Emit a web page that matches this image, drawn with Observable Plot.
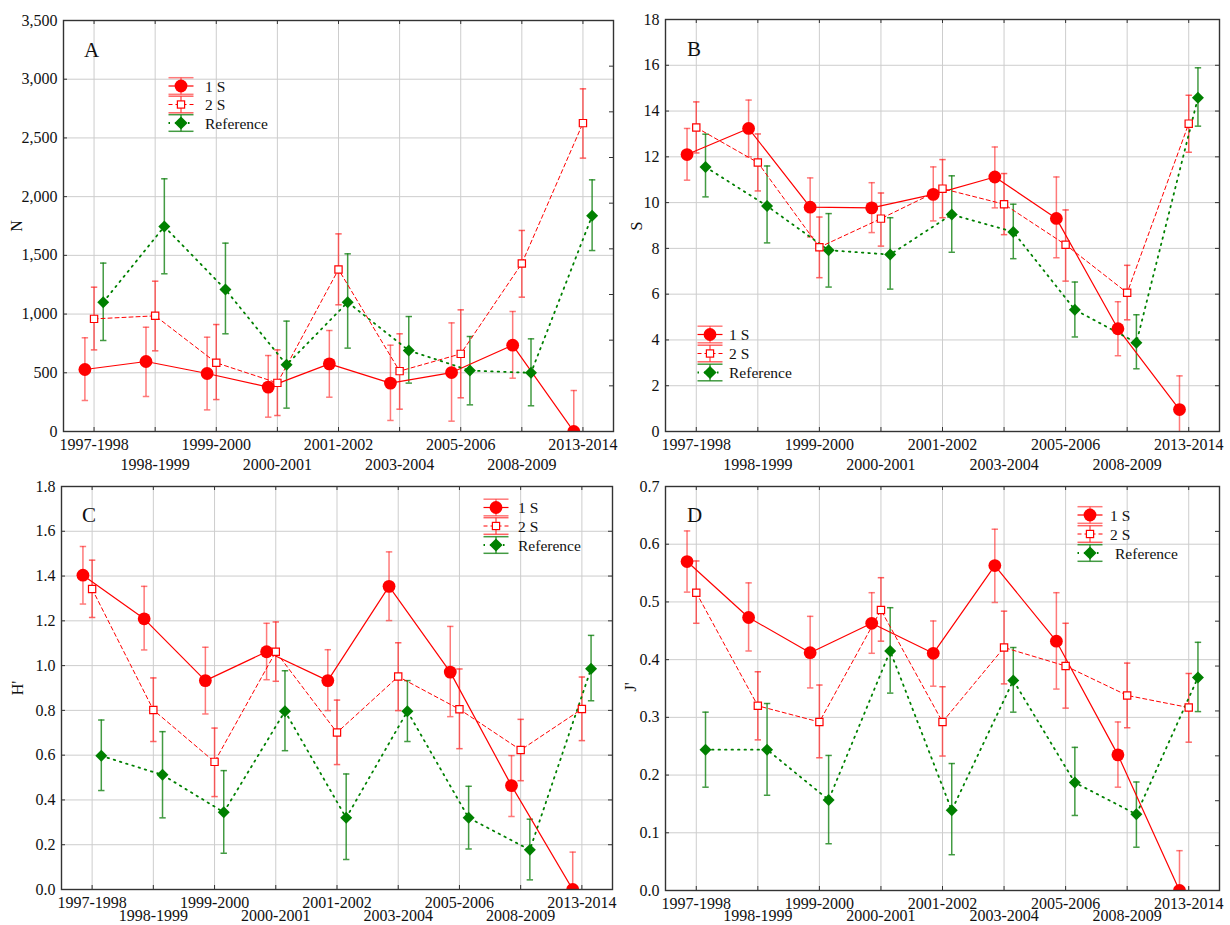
<!DOCTYPE html>
<html>
<head>
<meta charset="utf-8">
<script src="https://cdn.jsdelivr.net/npm/d3@7"></script>
<script src="https://cdn.jsdelivr.net/npm/@observablehq/plot@0.6"></script>
<style>
  html, body { margin: 0; padding: 0; background: #fff; }
  #root { position: relative; width: 1230px; height: 925px; background: #fff; font-family: "Liberation Serif", "Times New Roman", serif; overflow: hidden; }
  .panel { position: absolute; }
  .panel svg { font-family: "Liberation Serif", serif !important; font-size: 16px; overflow: visible; background: transparent !important; }
  #overlay { position: absolute; left: 0; top: 0; pointer-events: none; }
</style>
</head>
<body>
<div id="root"></div>
<script>
// ---------------- DATA ----------------
const categories = ["1997-1998","1998-1999","1999-2000","2000-2001","2001-2002","2003-2004","2005-2006","2008-2009","2013-2014"];
const seriesNames = ["1 S", "2 S", "Reference"];

// Panel A : N
const N_1S     = [528, 596, 494, 378, 576, 412, 502, 735, 0];
const N_1S_lo  = [264, 298, 184, 122, 292, 94, 88, 454, -349];
const N_1S_hi  = [798, 888, 803, 647, 860, 735, 925, 1022, 349];
const N_2S     = [959, 985, 585, 414, 1380, 514, 661, 1431, 2626];
const N_2S_lo  = [695, 687, 272, 136, 1079, 190, 287, 1144, 2328];
const N_2S_hi  = [1229, 1280, 911, 695, 1683, 832, 1036, 1712, 2918];
const N_Ref    = [1101, 1746, 1209, 568, 1101, 690, 519, 500, 1837];
const N_Ref_lo = [775, 1343, 832, 199, 710, 412, 227, 219, 1541];
const N_Ref_hi = [1434, 2152, 1604, 940, 1513, 979, 809, 789, 2143];
const N_ticks  = [0, 500, 1000, 1500, 2000, 2500, 3000, 3500];

// Panel B : S
const S_1S     = [12.10, 13.24, 9.80, 9.77, 10.36, 11.12, 9.31, 4.49, 0.96];
const S_1S_lo  = [10.98, 12.00, 8.50, 8.69, 9.20, 9.77, 7.59, 3.31, -0.51];
const S_1S_hi  = [13.24, 14.48, 11.08, 10.87, 11.56, 12.43, 11.12, 5.67, 2.43];
const S_2S     = [13.28, 11.75, 8.05, 9.30, 10.61, 9.93, 8.16, 6.06, 13.45];
const S_2S_lo  = [12.17, 10.51, 6.72, 8.10, 9.34, 8.60, 6.57, 4.88, 12.20];
const S_2S_hi  = [14.40, 13.00, 9.37, 10.42, 11.88, 11.27, 9.68, 7.26, 14.69];
const S_Ref    = [11.56, 9.85, 7.92, 7.73, 9.48, 8.72, 5.32, 3.88, 14.58];
const S_Ref_lo = [10.25, 8.24, 6.31, 6.22, 7.83, 7.55, 4.13, 2.74, 13.34];
const S_Ref_hi = [12.99, 11.60, 9.52, 9.34, 11.17, 9.93, 6.53, 5.10, 15.89];
const S_ticks  = [0, 2, 4, 6, 8, 10, 12, 14, 16, 18];

// Panel C : H'
const H_1S     = [1.404, 1.209, 0.933, 1.062, 0.933, 1.354, 0.971, 0.464, 0];
const H_1S_lo  = [1.275, 1.070, 0.784, 0.937, 0.799, 1.201, 0.772, 0.326, -0.167];
const H_1S_hi  = [1.532, 1.354, 1.082, 1.189, 1.071, 1.508, 1.175, 0.598, 0.167];
const H_2S     = [1.342, 0.802, 0.570, 1.062, 0.701, 0.951, 0.805, 0.623, 0.806];
const H_2S_lo  = [1.215, 0.661, 0.415, 0.930, 0.558, 0.799, 0.629, 0.486, 0.665];
const H_2S_hi  = [1.471, 0.945, 0.721, 1.195, 0.846, 1.102, 0.985, 0.760, 0.949];
const H_Ref    = [0.597, 0.512, 0.345, 0.796, 0.320, 0.796, 0.320, 0.177, 0.986];
const H_Ref_lo = [0.442, 0.320, 0.162, 0.620, 0.134, 0.661, 0.181, 0.043, 0.843];
const H_Ref_hi = [0.757, 0.705, 0.531, 0.977, 0.516, 0.933, 0.461, 0.314, 1.135];
const H_ticks  = [0, 0.2, 0.4, 0.6, 0.8, 1.0, 1.2, 1.4, 1.6, 1.8];

// Panel D : J'
const J_1S     = [0.570, 0.473, 0.412, 0.463, 0.411, 0.563, 0.432, 0.235, 0];
const J_1S_lo  = [0.517, 0.415, 0.351, 0.411, 0.354, 0.499, 0.349, 0.179, -0.069];
const J_1S_hi  = [0.623, 0.533, 0.475, 0.516, 0.467, 0.626, 0.516, 0.292, 0.069];
const J_2S     = [0.516, 0.320, 0.292, 0.486, 0.292, 0.421, 0.389, 0.338, 0.317];
const J_2S_lo  = [0.463, 0.261, 0.230, 0.432, 0.233, 0.358, 0.316, 0.282, 0.257];
const J_2S_hi  = [0.571, 0.379, 0.356, 0.542, 0.353, 0.484, 0.463, 0.394, 0.376];
const J_Ref    = [0.244, 0.244, 0.157, 0.415, 0.139, 0.364, 0.187, 0.132, 0.369];
const J_Ref_lo = [0.179, 0.165, 0.081, 0.342, 0.062, 0.309, 0.130, 0.075, 0.310];
const J_Ref_hi = [0.309, 0.324, 0.234, 0.490, 0.220, 0.421, 0.248, 0.188, 0.430];
const J_ticks  = [0, 0.1, 0.2, 0.3, 0.4, 0.5, 0.6, 0.7];

// ---------------- STYLES ----------------
const RED = "#ff0000", GREEN = "#008000";
const FONT = "Liberation Serif";
const styles = [
  { name: seriesNames[0], offset: -0.15, stroke: RED, width: 1.2, dash: null, err: "rgba(255,40,40,0.62)", marker: "circle" },
  { name: seriesNames[1], offset: 0, stroke: RED, width: 1, dash: "4,3", err: "rgba(255,40,40,0.72)", marker: "square" },
  { name: seriesNames[2], offset: 0.15, stroke: GREEN, width: 1.8, dash: "1.5,5", err: "rgba(20,130,20,0.8)", marker: "diamond" }
];

const panels = [
  { letter: "A", title: "N", left: 0, top: 0, width: 615, height: 475, mt: 20, mb: 44, ml: 63, mr: 2, dy1: 13, dy2: 33,
    domain: [0, 3500], ticks: N_ticks, fmt: d3.format(","),
    data: [[N_1S, N_1S_lo, N_1S_hi], [N_2S, N_2S_lo, N_2S_hi], [N_Ref, N_Ref_lo, N_Ref_hi]],
    letterPos: [84, 57], titlePos: [22, 226], legend: { cx: 181, rows: [86, 104.5, 123], tx: 205, refPad: 0 } },
  { letter: "B", title: "S", left: 615, top: 0, width: 615, height: 475, mt: 19, mb: 44, ml: 50, mr: 11, dy1: 13, dy2: 33,
    domain: [0, 18], ticks: S_ticks, fmt: d3.format("d"),
    data: [[S_1S, S_1S_lo, S_1S_hi], [S_2S, S_2S_lo, S_2S_hi], [S_Ref, S_Ref_lo, S_Ref_hi]],
    letterPos: [687, 56], titlePos: [642, 226], legend: { cx: 710, rows: [334.5, 353.5, 372.5], tx: 729, refPad: 0 } },
  { letter: "C", title: "H'", left: 0, top: 465, width: 615, height: 460, mt: 21, mb: 36, ml: 61, mr: 3, dy1: 13, dy2: 26,
    domain: [0, 1.8], ticks: H_ticks, fmt: d3.format(".1f"),
    data: [[H_1S, H_1S_lo, H_1S_hi], [H_2S, H_2S_lo, H_2S_hi], [H_Ref, H_Ref_lo, H_Ref_hi]],
    letterPos: [82, 522], titlePos: [23, 688], legend: { cx: 496, rows: [507.5, 526, 545], tx: 518, refPad: 0 } },
  { letter: "D", title: "J'", left: 615, top: 465, width: 615, height: 460, mt: 21, mb: 35, ml: 50, mr: 11, dy1: 13, dy2: 25,
    domain: [0, 0.7], ticks: J_ticks, fmt: d3.format(".1f"),
    data: [[J_1S, J_1S_lo, J_1S_hi], [J_2S, J_2S_lo, J_2S_hi], [J_Ref, J_Ref_lo, J_Ref_hi]],
    letterPos: [687, 522], titlePos: [636, 687], legend: { cx: 1090, rows: [515, 534, 553], tx: 1110, refPad: 5 } }
];

const capSymbol = {
  draw(ctx, size) {
    const r = Math.sqrt(size / Math.PI);
    ctx.moveTo(-r, 0); ctx.lineTo(r, 0);
  }
};

function markerOpts(st) {
  if (st.marker === "circle") return { symbol: "circle", r: 6.4, fill: RED, stroke: "none" };
  if (st.marker === "square") return { symbol: "square", r: 4.1, fill: "#fff", stroke: RED, strokeWidth: 1.2 };
  return { symbol: "diamond2", r: 5.4, fill: GREEN, stroke: "none" };
}

const root = document.getElementById("root");

panels.forEach(p => {
  const plotW = p.width - p.ml - p.mr;
  const plotH = p.height - p.mt - p.mb;
  const idx = categories.map((c, i) => ({ c, i: i + 1 }));
  const rightTicks = d3.range(1, 9).map(k => p.domain[0] + (p.domain[1] - p.domain[0]) * k / 9);

  const rowsBySeries = p.data.map((arr, k) => categories.map((c, i) => ({
    x: i + 1 + styles[k].offset, v: arr[0][i], lo: arr[1][i], hi: arr[2][i]
  })));

  const marks = [
    Plot.ruleX(idx, { x: "i", stroke: "#cdcdcd", strokeWidth: 1 }),
    Plot.ruleY(p.ticks, { y: d => d, stroke: "#cdcdcd", strokeWidth: 1 }),
    // inward ticks
    Plot.tickX(idx, { x: "i", stroke: "#333", insetBottom: plotH - 4 }),
    Plot.tickX(idx, { x: "i", stroke: "#333", insetTop: plotH - 4 }),
    Plot.tickY(p.ticks, { y: d => d, stroke: "#333", insetRight: plotW - 4 }),
    Plot.tickY(rightTicks, { y: d => d, stroke: "#333", insetLeft: plotW - 4 })
  ];

  // error bars
  rowsBySeries.forEach((rows, k) => {
    const st = styles[k];
    marks.push(Plot.ruleX(rows, { x: "x", y1: "lo", y2: "hi", stroke: st.err, strokeWidth: 1.5, clip: true }));
    marks.push(Plot.dot(rows, { x: "x", y: "hi", symbol: capSymbol, r: 3.2, fill: "none", stroke: st.err, strokeWidth: 1.5, clip: true }));
    marks.push(Plot.dot(rows, { x: "x", y: "lo", symbol: capSymbol, r: 3.2, fill: "none", stroke: st.err, strokeWidth: 1.5, clip: true }));
  });
  // lines
  rowsBySeries.forEach((rows, k) => {
    const st = styles[k];
    marks.push(Plot.line(rows, { x: "x", y: "v", stroke: st.stroke, strokeWidth: st.width, strokeDasharray: st.dash, clip: true }));
  });
  // markers
  [2, 1, 0].forEach(k => {
    marks.push(Plot.dot(rowsBySeries[k], { x: "x", y: "v", ...markerOpts(styles[k]), clip: true }));
  });

  // x tick labels (two rows)
  marks.push(Plot.text(idx.filter(d => d.i % 2 === 1), { x: "i", text: "c", frameAnchor: "bottom", lineAnchor: "middle", dy: p.dy1, fontSize: 16, fontFamily: FONT, fill: "#111" }));
  marks.push(Plot.text(idx.filter(d => d.i % 2 === 0), { x: "i", text: "c", frameAnchor: "bottom", lineAnchor: "middle", dy: p.dy2, fontSize: 16, fontFamily: FONT, fill: "#111" }));
  marks.push(Plot.frame({ stroke: "#333", strokeWidth: 1.4 }));

  const chart = Plot.plot({
    width: p.width, height: p.height,
    marginTop: p.mt, marginBottom: p.mb, marginLeft: p.ml, marginRight: p.mr,
    style: "font-family: 'Liberation Serif', serif; font-size: 16px; color: #111; background: transparent; overflow: visible;",
    x: { domain: [0.5, 9.5], axis: null },
    y: { domain: p.domain, ticks: p.ticks, tickFormat: p.fmt, tickSize: 0, tickPadding: 6, label: null },
    marks
  });
  chart.setAttribute("font-family", "Liberation Serif");
  chart.setAttribute("font-size", "16");
  const wrap = document.createElement("div");
  wrap.className = "panel";
  wrap.style.left = p.left + "px";
  wrap.style.top = p.top + "px";
  wrap.appendChild(chart);
  root.appendChild(wrap);
});

// ---------------- OVERLAY: letters, axis titles, legends ----------------
const NS = "http://www.w3.org/2000/svg";
const ov = document.createElementNS(NS, "svg");
ov.setAttribute("id", "overlay");
ov.setAttribute("width", 1230);
ov.setAttribute("height", 925);
root.appendChild(ov);

function el(tag, attrs, text) {
  const e = document.createElementNS(NS, tag);
  for (const k in attrs) e.setAttribute(k, attrs[k]);
  if (text != null) e.textContent = text;
  ov.appendChild(e);
  return e;
}

panels.forEach(p => {
  el("text", { x: p.letterPos[0], y: p.letterPos[1], "font-family": FONT, "font-size": 21, fill: "#111" }, p.letter);
  el("text", { x: p.titlePos[0], y: p.titlePos[1], "font-family": FONT, "font-size": 16, fill: "#111",
    "text-anchor": "middle", transform: `rotate(-90 ${p.titlePos[0]} ${p.titlePos[1]})` }, p.title);

  const L = p.legend;
  styles.forEach((st, k) => {
    const cx = L.cx, cy = L.rows[k], hw = 12.5, hc = 8.3;
    el("line", { x1: cx - hw, x2: cx + hw, y1: cy - hc, y2: cy - hc, stroke: st.err, "stroke-width": 1.5 });
    el("line", { x1: cx - hw, x2: cx + hw, y1: cy + hc, y2: cy + hc, stroke: st.err, "stroke-width": 1.5 });
    el("line", { x1: cx, x2: cx, y1: cy - hc, y2: cy + hc, stroke: st.err, "stroke-width": 1.5 });
    const la = { x1: cx - hw, x2: cx + hw, y1: cy, y2: cy, stroke: st.stroke, "stroke-width": st.width };
    if (st.dash) la["stroke-dasharray"] = st.dash;
    el("line", la);
    if (st.marker === "circle") el("circle", { cx, cy, r: 6.4, fill: RED });
    else if (st.marker === "square") el("rect", { x: cx - 3.6, y: cy - 3.6, width: 7.2, height: 7.2, fill: "#fff", stroke: RED, "stroke-width": 1.2 });
    else el("polygon", { points: `${cx},${cy - 6.6} ${cx + 6.6},${cy} ${cx},${cy + 6.6} ${cx - 6.6},${cy}`, fill: GREEN });
    el("text", { x: L.tx + (k === 2 ? L.refPad : 0), y: cy + 5.5, "font-family": FONT, "font-size": 15.5, fill: "#111" }, st.name);
  });
});
</script>
</body>
</html>
